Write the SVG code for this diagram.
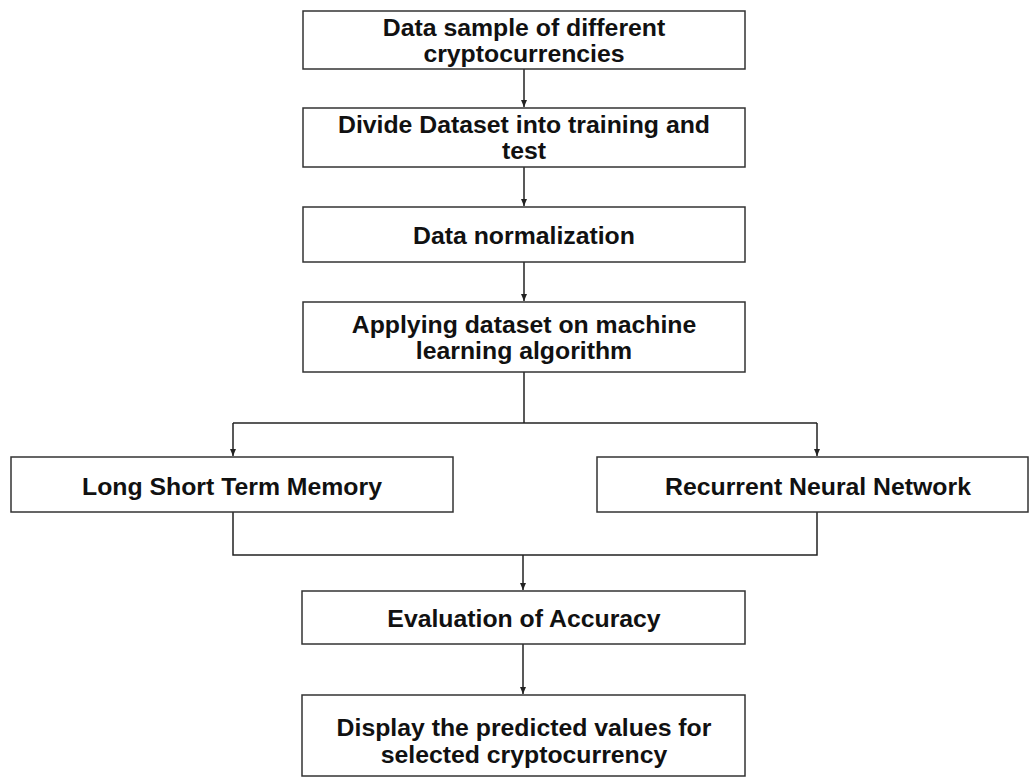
<svg xmlns="http://www.w3.org/2000/svg" width="1032" height="780" viewBox="0 0 1032 780">
<style>
.box{fill:#fff;stroke:#333;stroke-width:1.5}
.t{font-family:"Liberation Sans",Arial,sans-serif;font-weight:bold;font-size:24.8px;fill:#111;text-anchor:middle}
.c{fill:none;stroke:#222;stroke-width:1.5}
</style>
<defs>
<marker id="ah" markerWidth="8" markerHeight="8" refX="7" refY="4" orient="auto" markerUnits="userSpaceOnUse">
<path d="M0,1 L7,4 L0,7 Z" fill="#222"/>
</marker>
</defs>
<rect width="1032" height="780" fill="#fff"/>
<g id="connectors">
<path class="c" d="M524,69 V107" marker-end="url(#ah)"/>
<path class="c" d="M524,167 V206" marker-end="url(#ah)"/>
<path class="c" d="M524,262 V301" marker-end="url(#ah)"/>
<path class="c" d="M524,372 V423"/>
<path class="c" d="M233,423 H817"/>
<path class="c" d="M233,423 V456" marker-end="url(#ah)"/>
<path class="c" d="M817,423 V456" marker-end="url(#ah)"/>
<path class="c" d="M233,512 V555 H817 V512"/>
<path class="c" d="M523,555 V590" marker-end="url(#ah)"/>
<path class="c" d="M523,644 V694" marker-end="url(#ah)"/>
</g>
<g id="n1"><rect class="box" x="303" y="11" width="442" height="58"/><text class="t" x="524" y="36">Data sample of different</text><text class="t" x="524" y="62">cryptocurrencies</text></g>
<g id="n2"><rect class="box" x="303" y="108" width="442" height="59"/><text class="t" x="524" y="133">Divide Dataset into training and</text><text class="t" x="524" y="159">test</text></g>
<g id="n3"><rect class="box" x="303" y="207" width="442" height="55"/><text class="t" x="524" y="244">Data normalization</text></g>
<g id="n4"><rect class="box" x="303" y="302" width="442" height="70"/><text class="t" x="524" y="333">Applying dataset on machine</text><text class="t" x="524" y="359">learning algorithm</text></g>
<g id="n5"><rect class="box" x="11" y="457" width="442" height="55"/><text class="t" x="232" y="495">Long Short Term Memory</text></g>
<g id="n6"><rect class="box" x="597" y="457" width="431" height="55"/><text class="t" x="818" y="495">Recurrent Neural Network</text></g>
<g id="n7"><rect class="box" x="302" y="591" width="443" height="53"/><text class="t" x="524" y="627">Evaluation of Accuracy</text></g>
<g id="n8"><rect class="box" x="302" y="695" width="443" height="81"/><text class="t" x="524" y="736">Display the predicted values for</text><text class="t" x="524" y="763">selected cryptocurrency</text></g>
</svg>
